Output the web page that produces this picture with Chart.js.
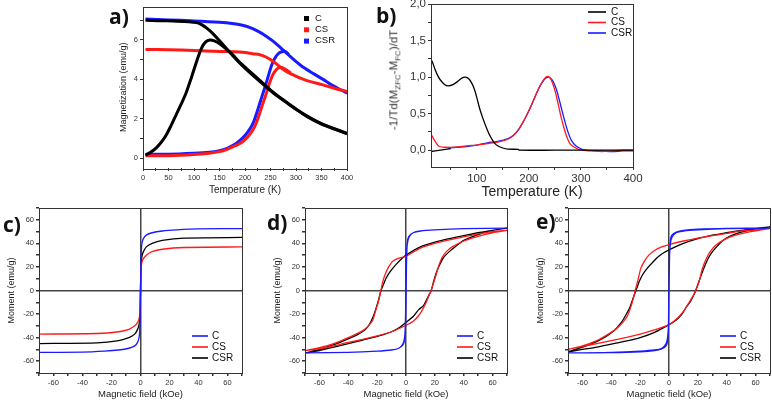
<!DOCTYPE html>
<html>
<head>
<meta charset="utf-8">
<script src="https://cdn.jsdelivr.net/npm/chart.js@4/dist/chart.umd.min.js"></script>
<style>
body { margin: 0; background: #fff; width: 772px; height: 400px; position: relative; overflow: hidden; font-family: "Liberation Sans", Arial, sans-serif; }
canvas { position: absolute; }
.lab { position: absolute; font: bold 21px "Open Sans", "Liberation Sans", sans-serif; color: #111; line-height: 1; }
.ytitle { position: absolute; white-space: nowrap; font: normal 11.5px "Liberation Sans", Arial, sans-serif; color: #333; transform: translate(-50%, -50%) rotate(-90deg); }
.ytitle sub { font-size: 8px; }
</style>
</head>
<body>
<canvas id="chA"></canvas>
<canvas id="chB"></canvas>
<canvas id="chC"></canvas>
<canvas id="chD"></canvas>
<canvas id="chE"></canvas>
<div class="lab" style="left:109px;top:6px">a)</div>
<div class="lab" style="left:376px;top:5px">b)</div>
<div class="lab" style="left:3px;top:214px">c)</div>
<div class="lab" style="left:267px;top:212px">d)</div>
<div class="lab" style="left:536px;top:211px">e)</div>
<div class="ytitle" style="left:395px;top:80px">-1/Td(M<sub>ZFC</sub>-M<sub>FC</sub>)/dT</div>
<script>
// 系列名と色
const names = ['C', 'CS', 'CSR'];
const black = '#000000', red = '#ff1a1a', blue = '#1a1aff';

// a) ZFC / FC 磁化 (T [K], M [emu/g])
const aC_zfc = [[5,0.15],[15,0.3],[25,0.5],[35,0.78],[45,1.15],[55,1.65],[65,2.2],[75,2.75],[85,3.35],[95,4.1],[105,4.9],[115,5.6],[123,5.9],[131,6.0],[140,5.95],[151,5.8],[165,5.5],[177,5.22],[190,4.85],[203,4.55],[229,3.95],[255,3.35],[280,2.87],[300,2.5],[321,2.15],[350,1.75],[375,1.5],[400,1.26]];
const aC_fc = [[5,7.0],[30,6.98],[60,6.96],[90,6.93],[105,6.88],[115,6.78],[125,6.6],[138,6.3],[151,5.93],[164,5.55],[177,5.18],[190,4.82],[203,4.5],[229,3.9],[255,3.32],[280,2.85],[300,2.48],[321,2.12],[350,1.73],[375,1.48],[400,1.24]];
const aCS_zfc = [[5,0.12],[50,0.12],[100,0.18],[130,0.25],[150,0.33],[165,0.45],[180,0.62],[196,0.85],[206,1.1],[216,1.45],[223,1.85],[229,2.3],[236,2.85],[242,3.3],[248,3.8],[254,4.2],[260,4.45],[266,4.58],[272,4.6],[280,4.5],[290,4.32]];
const aCS_fc = [[5,5.52],[50,5.5],[100,5.47],[150,5.42],[180,5.4],[200,5.36],[215,5.3],[229,5.25],[240,5.15],[255,4.92],[270,4.6],[288,4.3],[320,3.95],[353,3.72],[375,3.55],[400,3.38]];
const aCSR_zfc = [[5,0.2],[50,0.2],[100,0.25],[130,0.3],[150,0.38],[165,0.5],[180,0.7],[190,0.9],[200,1.15],[210,1.5],[217,1.85],[223,2.3],[231,2.95],[239,3.6],[246,4.2],[252,4.7],[258,5.05],[265,5.3],[272,5.4],[279,5.42],[286,5.25]];
const aCSR_fc = [[5,7.07],[50,7.02],[100,6.97],[150,6.9],[175,6.84],[195,6.75],[210,6.63],[225,6.45],[240,6.22],[255,5.94],[270,5.6],[285,5.25],[298,4.95],[315,4.6],[335,4.28],[353,4.0],[375,3.65],[400,3.3]];

// b) -1/T d(Mzfc-Mfc)/dT
const bC = [[10,1.26],[15,1.2],[20,1.1],[25,1.02],[30,0.96],[38,0.9],[45,0.88],[55,0.9],[65,0.95],[72,0.99],[78,1.0],[84,0.98],[90,0.92],[95,0.84],[100,0.72],[105,0.58],[110,0.47],[115,0.37],[120,0.28],[125,0.2],[130,0.14],[135,0.09],[140,0.06],[150,0.03],[160,0.015],[180,0.01],[181,0.0],[250,0.0],[320,0.0],[400,0.0],[null,null],[10,-0.02],[30,0.0],[50,0.02]];
const bCS = [[12,0.22],[20,0.12],[28,0.05],[40,0.04],[60,0.04],[80,0.06],[100,0.07],[120,0.09],[140,0.11],[160,0.15],[170,0.2],[180,0.28],[190,0.4],[200,0.54],[210,0.7],[220,0.86],[230,0.98],[237,1.01],[243,0.96],[250,0.82],[256,0.64],[262,0.45],[268,0.29],[274,0.16],[280,0.08],[290,0.03],[300,0.0],[320,-0.01],[340,-0.02],[360,-0.01],[380,0.0],[400,0.0]];
const bCSR = [[45,0.03],[60,0.04],[80,0.05],[100,0.07],[120,0.1],[140,0.12],[160,0.16],[170,0.2],[180,0.28],[190,0.4],[200,0.54],[210,0.7],[220,0.86],[230,0.97],[238,1.0],[245,0.96],[252,0.85],[258,0.7],[264,0.53],[270,0.37],[276,0.23],[282,0.13],[290,0.06],[300,0.02],[310,0.0],[340,-0.01],[360,-0.02],[380,-0.01],[400,-0.01]];

// c) M(H) (H [kOe], M [emu/g])
const cC = [[-70,-52.5],[-40,-52.3],[-25,-51.5],[-15,-50.5],[-8,-49],[-4,-47],[-2,-44],[-1,-40],[-0.5,-33],[0,0],[0.5,33],[1,40],[2,44],[4,47],[8,49],[15,50.5],[25,51.5],[40,52.3],[70,52.5]];
const cCS = [[-70,-37],[-30,-36.5],[-15,-35],[-8,-33],[-4,-30],[-2,-27],[-1,-24],[-0.3,-18],[0,0],[0.3,18],[1,24],[2,27],[4,30],[8,33],[15,35],[30,36.5],[70,37]];
const cCSR = [[-70,-45],[-30,-44.5],[-15,-42.5],[-8,-40],[-4,-37],[-2,-33],[-1,-29],[-0.3,-20],[0,0],[0.3,20],[1,29],[2,33],[4,37],[8,40],[15,42.5],[30,44.5],[70,45]];

// d) ヒステリシス (下降枝 → 上昇枝)
const dC = [[70,53],[40,52.5],[20,51.5],[10,50.5],[5,49],[2,46],[1,42],[0.3,30],[0,10],[-0.3,-20],[-0.8,-38],[-2,-45],[-5,-49],[-10,-50.5],[-20,-51.5],[-40,-52.5],[-70,-53],
  [-40,-52.5],[-20,-51.5],[-10,-50.5],[-5,-49],[-2,-46],[-1,-42],[-0.3,-30],[0,-10],[0.3,20],[0.8,38],[2,45],[5,49],[10,50.5],[20,51.5],[40,52.5],[70,53]];
const dCS = [[70,51],[60,50],[50,48],[40,45.5],[30,43],[20,40],[10,36],[0,29],[-5,27.5],[-9,25],[-12,20],[-14,15],[-16,8],[-17.4,0],[-19,-9],[-21,-17],[-23,-25],[-26,-30],[-30,-34],[-40,-40],[-50,-45],[-60,-48.5],[-70,-51],
  [-60,-49.5],[-50,-47],[-40,-44],[-30,-41.5],[-20,-38.5],[-10,-35],[0,-29.5],[5,-26],[9,-21],[12,-15],[14,-10],[16,-4],[17.4,0],[19,6],[21,14],[23,22],[25,28],[28,33],[32,37],[40,42],[50,46],[60,49],[70,51]];
const dCSR = [[70,53],[60,51],[50,49],[40,46.5],[30,44],[20,41],[10,37],[0,30],[-3,27],[-7,22],[-11,16],[-14,10],[-16,4],[-17.4,0],[-19,-8],[-21,-16],[-23,-23],[-25,-28],[-28,-33],[-33,-37],[-40,-41],[-50,-46],[-60,-50],[-70,-53],
  [-60,-51],[-50,-48],[-40,-45],[-30,-42],[-20,-39],[-10,-35],[-4,-31],[0,-27],[5,-22],[9,-16],[12,-13],[15,-6],[17.5,0],[19,7],[21,15],[23,21],[26,28],[30,33],[35,38],[40,42.5],[50,47.5],[60,51],[70,53]];

// e) ヒステリシス
const eC = [[70,53],[40,52.7],[20,52],[10,51],[5,49.5],[2,47],[1,43],[0.4,30],[0,0],[-0.4,-30],[-1,-40],[-2,-45],[-5,-49],[-10,-50.5],[-20,-51.5],[-40,-52.5],[-70,-53],
  [-40,-52.7],[-20,-52],[-10,-51],[-5,-49.5],[-2,-47],[-1,-43],[-0.4,-30],[0,0],[0.4,30],[1,40],[2,45],[5,49],[10,50.5],[20,51.5],[40,52.5],[70,53]];
const eCS = [[70,52.5],[60,51.5],[50,50.5],[40,48.5],[30,46.5],[20,44.5],[10,42],[0,39],[-5,37],[-10,34],[-14,30],[-17,25],[-19.5,19],[-21.5,9],[-23.4,0],[-25,-8],[-27,-16],[-29,-22],[-32,-27],[-36,-32],[-42,-37],[-50,-42.5],[-60,-47],[-70,-50],
  [-60,-47.5],[-50,-45],[-40,-42.5],[-30,-40],[-20,-37],[-10,-33.5],[0,-29],[7,-22],[11,-16],[14,-10],[16.5,-5],[18.5,0],[21,8],[23,18],[25.5,26],[28,32],[32,38],[38,43],[45,46.5],[55,49.5],[70,52.5]];
const eCSR = [[70,54],[60,52.5],[50,51],[40,49],[30,47],[20,44],[10,40],[0,34.5],[-5,31],[-9,27],[-12,23],[-15,19],[-18,14],[-20.5,8],[-22,3],[-23,0],[-25,-7],[-27,-14],[-30,-21],[-33,-27],[-38,-34],[-45,-40],[-55,-46],[-70,-52],
  [-60,-50],[-50,-48],[-40,-45.5],[-30,-43],[-20,-40],[-10,-35.5],[0,-29],[5,-25],[9,-20],[12,-14],[15,-9],[17.5,-3],[18.5,0],[20,5],[22,12],[24.5,20],[27,27],[29.5,32],[33,37],[37,42],[42,46],[50,49.5],[60,52],[70,54]];

const FONT = '"Liberation Sans", Arial, sans-serif';

function toXY(pairs) {
    return pairs.map(p => ({ x: p[0], y: p[1] }));
}

// 枠線
const framePlugin = {
    id: 'frame',
    afterDatasetsDraw(chart) {
        const a = chart.chartArea, ctx = chart.ctx;
        ctx.save();
        ctx.strokeStyle = '#333';
        ctx.lineWidth = 1;
        ctx.strokeRect(Math.round(a.left) + 0.5, Math.round(a.top) + 0.5, Math.round(a.right - a.left), Math.round(a.bottom - a.top));
        ctx.restore();
    }
};

// 凡例（プロット内）
const boxLegend = {
    id: 'boxLegend',
    afterDraw(chart, args, o) {
        if (!o || !o.items) return;
        const ctx = chart.ctx;
        ctx.save();
        ctx.font = o.size + 'px ' + FONT;
        ctx.textBaseline = 'middle';
        o.items.forEach((it, i) => {
            const y = o.y + i * o.dy;
            ctx.fillStyle = it.color;
            ctx.strokeStyle = it.color;
            if (o.square) {
                ctx.fillRect(o.x - 2, y - 2, 5, 5);
            } else {
                ctx.lineWidth = 1.6;
                ctx.beginPath();
                ctx.moveTo(o.x, y);
                ctx.lineTo(o.x + o.len, y);
                ctx.stroke();
            }
            ctx.fillStyle = '#111';
            ctx.fillText(it.label, o.tx, y);
        });
        ctx.restore();
    }
};

function makePanel(id, box, area, cfg) {
    const cv = document.getElementById(id);
    cv.width = box.w;
    cv.height = box.h;
    cv.style.left = box.x + 'px';
    cv.style.top = box.y + 'px';

    const yTitleSize = cfg.yTitleSize || 9;
    const xTitleSize = cfg.xTitleSize || 10;
    const tickSize = cfg.tickSize || 8;
    const zero = !!cfg.zeroLines;

    const grid = () => ({
        display: true,
        drawOnChartArea: zero,
        color: c => (zero && c.tick && c.tick.value === 0) ? '#444' : 'rgba(0,0,0,0)',
        lineWidth: zero ? 1.5 : 1,
        drawTicks: true,
        tickLength: 3,
        tickColor: '#333'
    });

    new Chart(cv, {
        type: 'scatter',
        data: {
            datasets: cfg.datasets.map(d => ({
                data: toXY(d.data),
                borderColor: d.color,
                backgroundColor: d.color,
                borderWidth: cfg.lineWidth,
                showLine: true,
                pointRadius: 0,
                tension: cfg.tension,
                spanGaps: false
            }))
        },
        options: {
            responsive: false,
            animation: false,
            events: [],
            layout: {
                padding: { left: 0, top: area.t - box.y, right: box.x + box.w - area.r, bottom: 0 }
            },
            plugins: {
                legend: { display: false },
                tooltip: { enabled: false },
                boxLegend: {
                    items: cfg.legend.items,
                    square: cfg.legend.square,
                    x: cfg.legend.x - box.x,
                    tx: cfg.legend.tx - box.x,
                    len: cfg.legend.len || 0,
                    y: cfg.legend.y - box.y,
                    dy: cfg.legend.dy,
                    size: cfg.legend.size
                }
            },
            scales: {
                x: {
                    type: 'linear',
                    min: cfg.x.min,
                    max: cfg.x.max,
                    afterFit: s => { s.height = box.y + box.h - area.b; },
                    border: { display: false },
                    grid: grid(),
                    ticks: {
                        stepSize: cfg.x.step,
                        includeBounds: false,
                        autoSkip: false,
                        maxRotation: 0,
                        padding: 2,
                        color: '#333',
                        font: { family: FONT, size: tickSize },
                        callback: cfg.x.label
                    },
                    title: {
                        display: true,
                        text: cfg.x.title,
                        color: '#222',
                        font: { family: FONT, size: xTitleSize },
                        padding: { top: 0, bottom: (box.y + box.h) - cfg.x.titleY - xTitleSize * 0.6 }
                    }
                },
                y: {
                    type: 'linear',
                    min: cfg.y.min,
                    max: cfg.y.max,
                    afterFit: s => { s.width = area.l - box.x; },
                    border: { display: false },
                    grid: grid(),
                    ticks: {
                        stepSize: cfg.y.step,
                        includeBounds: false,
                        autoSkip: false,
                        padding: 2,
                        color: '#333',
                        font: { family: FONT, size: tickSize },
                        callback: cfg.y.label
                    },
                    title: {
                        display: !!cfg.y.title,
                        text: cfg.y.title || '',
                        color: '#222',
                        font: { family: FONT, size: yTitleSize },
                        padding: { top: (cfg.y.titleX || box.x) - box.x - yTitleSize * 0.6, bottom: 0 }
                    }
                }
            }
        },
        plugins: [framePlugin, boxLegend]
    });
}

const every = n => v => (Math.abs(v / n - Math.round(v / n)) < 1e-6 ? String(Math.round(v * 100) / 100) : '');
const commaHalf = v => (Math.abs(v * 2 - Math.round(v * 2)) < 1e-6 ? v.toFixed(1).replace('.', ',') : '');

// a)
makePanel('chA', { x: 112, y: 0, w: 246, h: 200 }, { l: 143, t: 4, r: 347, b: 168 }, {
    lineWidth: 3, tension: 0.3,
    datasets: [
        { data: aC_fc, color: black }, { data: aC_zfc, color: black },
        { data: aCS_fc, color: red }, { data: aCS_zfc, color: red },
        { data: aCSR_fc, color: blue }, { data: aCSR_zfc, color: blue }
    ],
    legend: { square: true, x: 306, tx: 315, y: 18, dy: 11.3, size: 9.5,
        items: [{ label: names[0], color: black }, { label: names[1], color: red }, { label: names[2], color: blue }] },
    x: { min: 0, max: 400, step: 25, label: every(50), title: 'Temperature (K)', titleY: 190 },
    y: { min: -0.5, max: 7.7, step: 1, label: every(2), title: 'Magnetization (emu/g)', titleX: 124 },
    tickSize: 7.5, xTitleSize: 10, yTitleSize: 9
});

// b)
makePanel('chB', { x: 398, y: -10, w: 247, h: 210 }, { l: 431, t: 4, r: 633, b: 167 }, {
    lineWidth: 1.3, tension: 0.3,
    datasets: [{ data: bC, color: black }, { data: bCS, color: red }, { data: bCSR, color: blue }],
    legend: { square: false, x: 588, len: 18, tx: 611, y: 12, dy: 10.5, size: 10,
        items: [{ label: names[0], color: black }, { label: names[1], color: red }, { label: names[2], color: blue }] },
    x: { min: 12, max: 400, step: 50, label: every(100), title: 'Temperature (K)', titleY: 192 },
    y: { min: -0.23, max: 2.0, step: 0.25, label: commaHalf },
    tickSize: 11.5, xTitleSize: 14
});

const mhLegend = (x) => ({ square: false, x: x, len: 16, tx: x + 20, y: 336, dy: 11, size: 10,
    items: [{ label: names[0], color: blue }, { label: names[1], color: red }, { label: names[2], color: black }] });
const mhX = { min: -70, max: 70, step: 10, label: every(20), title: 'Magnetic field (kOe)', titleY: 394 };
const mhY = t => ({ min: -70, max: 70, step: 10, label: every(20), title: 'Moment (emu/g)', titleX: t });

// c)
makePanel('chC', { x: 0, y: 195, w: 246, h: 205 }, { l: 39, t: 208, r: 242, b: 373 }, {
    lineWidth: 1.3, tension: 0.2, zeroLines: true,
    datasets: [{ data: cC, color: blue }, { data: cCS, color: red }, { data: cCSR, color: black }],
    legend: mhLegend(192), x: mhX, y: mhY(12), tickSize: 7.5, xTitleSize: 9.5, yTitleSize: 9
});

// d)
makePanel('chD', { x: 265, y: 195, w: 246, h: 205 }, { l: 305, t: 208, r: 507, b: 373 }, {
    lineWidth: 1.3, tension: 0.2, zeroLines: true,
    datasets: [{ data: dC, color: blue }, { data: dCS, color: red }, { data: dCSR, color: black }],
    legend: mhLegend(457), x: mhX, y: mhY(278), tickSize: 7.5, xTitleSize: 9.5, yTitleSize: 9
});

// e)
makePanel('chE', { x: 528, y: 195, w: 244, h: 205 }, { l: 568, t: 208, r: 771, b: 373 }, {
    lineWidth: 1.3, tension: 0.2, zeroLines: true,
    datasets: [{ data: eC, color: blue }, { data: eCS, color: red }, { data: eCSR, color: black }],
    legend: mhLegend(720), x: mhX, y: mhY(541), tickSize: 7.5, xTitleSize: 9.5, yTitleSize: 9
});
</script>
</body>
</html>
